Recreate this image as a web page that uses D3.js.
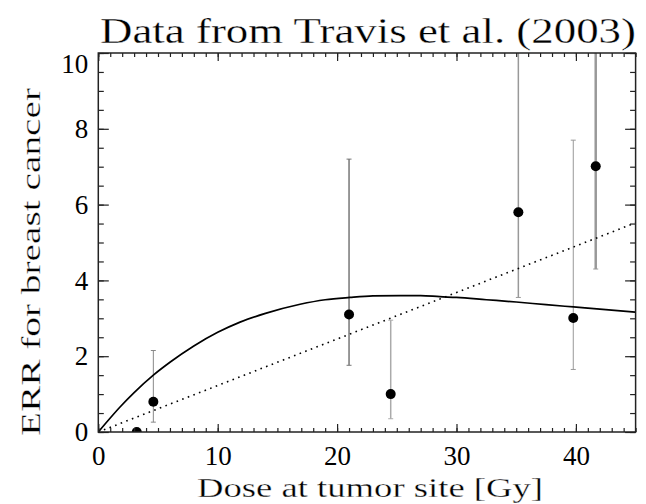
<!DOCTYPE html>
<html>
<head>
<meta charset="utf-8">
<script src="https://cdn.jsdelivr.net/npm/d3@7"></script>
<style>
  html, body { margin: 0; padding: 0; background: #fff; }
  svg { display: block; }
  text { font-family: "Liberation Serif", "DejaVu Serif", serif; fill: #000; }
  .ttl { stroke: #fff; stroke-width: 0.3px; }
</style>
</head>
<body>
<svg id="chart" width="646" height="504"></svg>
<script>
// ---- Data ----
const titleText = "Data from Travis et al. (2003)";
const xLabelText = "Dose at tumor site [Gy]";
const yLabelText = "ERR for breast cancer";

// Observed points: dose (Gy), ERR, lower and upper error limits (null = none)
const doses   = [3.22, 4.61, 21.0, 24.49, 35.18, 39.78, 41.66];
const errVals = [0.0, 0.80, 3.10, 1.00, 5.80, 3.01, 7.01];
const errLow  = [null, 0.26, 1.76, 0.35, 3.55, 1.65, 4.30];
const errHigh = [null, 2.15, 7.20, 2.95, 12.0, 7.70, 12.0];

// Solid fitted curve
const curveDose = [0, 1, 1.82, 3, 4.61, 6, 8, 10, 11.87, 14, 16.9, 19, 21.07, 23, 25.3, 27, 28.6, 30, 32.5, 35, 37.5, 39.8, 42.5, 45];
const curveErr  = [0, 0.37, 0.66, 1.04, 1.50, 1.84, 2.27, 2.63, 2.90, 3.13, 3.37, 3.49, 3.55, 3.59, 3.60, 3.60, 3.57, 3.55, 3.49, 3.43, 3.36, 3.30, 3.23, 3.16];

// Dotted linear fit, endpoints
const lineDose = [0, 45];
const lineErr  = [0, 5.52];

// Axis ticks
const xMajorTicks = [0, 10, 20, 30, 40];
const xMinorTicks = d3.range(0, 46, 1);
const yMajorTicks = [0, 2, 4, 6, 8, 10];
const yMinorTicks = d3.range(0, 10.01, 0.5);

// ---- Layout ----
const L = 98.3, R = 635.6, T = 53, B = 432;
const svg = d3.select("#chart");

const x = d3.scaleLinear().domain([0, 45]).range([L, R]);
const y = d3.scaleLinear().domain([0, 10]).range([B, T]);

// Per-point error bar styling
const barColor = ["#888", "#888", "#777", "#aaa", "#999", "#999", "#999"];
const barWidth = [1, 1, 1.5, 1.5, 1.5, 1, 2.5];

svg.append("defs").append("clipPath").attr("id", "plotclip")
  .append("rect").attr("x", L).attr("y", T).attr("width", R - L).attr("height", B - T);

const plot = svg.append("g").attr("clip-path", "url(#plotclip)");

// Error bars
const pts = doses.map((d, i) => ({ d, v: errVals[i], lo: errLow[i], hi: errHigh[i], i }));
const eb = plot.append("g");
pts.filter(p => p.lo !== null).forEach(p => {
  const g = eb.append("g").attr("stroke", barColor[p.i]).attr("stroke-width", barWidth[p.i]);
  g.append("line").attr("x1", x(p.d)).attr("x2", x(p.d)).attr("y1", y(p.lo)).attr("y2", y(p.hi));
  g.append("line").attr("x1", x(p.d) - 2.5).attr("x2", x(p.d) + 2.5).attr("y1", y(p.lo)).attr("y2", y(p.lo)).attr("stroke-width", 1);
  g.append("line").attr("x1", x(p.d) - 2.5).attr("x2", x(p.d) + 2.5).attr("y1", y(p.hi)).attr("y2", y(p.hi)).attr("stroke-width", 1);
});

// Dotted line
plot.append("path")
  .datum(lineDose.map((d, i) => [d, lineErr[i]]))
  .attr("d", d3.line().x(d => x(d[0])).y(d => y(d[1])))
  .attr("fill", "none").attr("stroke", "#000").attr("stroke-width", 1.6)
  .attr("stroke-dasharray", "1.6,4.4");

// Solid curve
plot.append("path")
  .datum(curveDose.map((d, i) => [d, curveErr[i]]))
  .attr("d", d3.line().curve(d3.curveMonotoneX).x(d => x(d[0])).y(d => y(d[1])))
  .attr("fill", "none").attr("stroke", "#000").attr("stroke-width", 1.7);

// Points
plot.append("g").selectAll("circle").data(pts).join("circle")
  .attr("cx", p => x(p.d)).attr("cy", p => y(p.v)).attr("r", 5).attr("fill", "#000");

// ---- Axes ----
function styleAxis(g) {
  g.select(".domain").remove();
  g.selectAll(".tick line").attr("stroke", "#222").attr("stroke-width", 1.2);
  g.selectAll("text").style("font-size", "27px").attr("fill", "#000");
}
// bottom
svg.append("g").attr("transform", `translate(0,${B})`)
  .call(d3.axisBottom(x).tickValues(xMinorTicks).tickSize(-4).tickFormat(""))
  .call(styleAxis);
svg.append("g").attr("transform", `translate(0,${B})`)
  .call(d3.axisBottom(x).tickValues(xMajorTicks).tickSize(-8).tickPadding(14).tickFormat(d3.format("d")))
  .call(styleAxis);
// top
svg.append("g").attr("transform", `translate(0,${T})`)
  .call(d3.axisTop(x).tickValues(xMinorTicks).tickSize(-4).tickFormat(""))
  .call(styleAxis);
svg.append("g").attr("transform", `translate(0,${T})`)
  .call(d3.axisTop(x).tickValues(xMajorTicks).tickSize(-8).tickFormat(""))
  .call(styleAxis);
// left
svg.append("g").attr("transform", `translate(${L},0)`)
  .call(d3.axisLeft(y).tickValues(yMinorTicks).tickSize(-5.5).tickFormat(""))
  .call(styleAxis);
const yl = svg.append("g").attr("transform", `translate(${L},0)`)
  .call(d3.axisLeft(y).tickValues(yMajorTicks).tickSize(-10.5).tickPadding(10).tickFormat(d3.format("d")))
  .call(styleAxis);
yl.selectAll(".tick text").attr("transform", d => `translate(0,${Math.max(0, T + 11 - y(d))})`);
// right
svg.append("g").attr("transform", `translate(${R},0)`)
  .call(d3.axisRight(y).tickValues(yMinorTicks).tickSize(-5.5).tickFormat(""))
  .call(styleAxis);
svg.append("g").attr("transform", `translate(${R},0)`)
  .call(d3.axisRight(y).tickValues(yMajorTicks).tickSize(-10.5).tickFormat(""))
  .call(styleAxis);

// Frame
svg.append("rect").attr("x", L).attr("y", T).attr("width", R - L).attr("height", B - T)
  .attr("fill", "none").attr("stroke", "#222").attr("stroke-width", 1.5);

// ---- Titles ----
svg.append("text").attr("class", "ttl").attr("x", 100).attr("y", 43)
  .attr("textLength", 536).attr("lengthAdjust", "spacingAndGlyphs")
  .style("font-size", "35px").text(titleText);

svg.append("text").attr("class", "ttl").attr("x", 197).attr("y", 497)
  .attr("textLength", 346).attr("lengthAdjust", "spacingAndGlyphs")
  .style("font-size", "28px").text(xLabelText);

svg.append("text").attr("class", "ttl").attr("transform", "translate(40,436) rotate(-90)")
  .attr("textLength", 348).attr("lengthAdjust", "spacingAndGlyphs")
  .style("font-size", "28px").text(yLabelText);
</script>
</body>
</html>
